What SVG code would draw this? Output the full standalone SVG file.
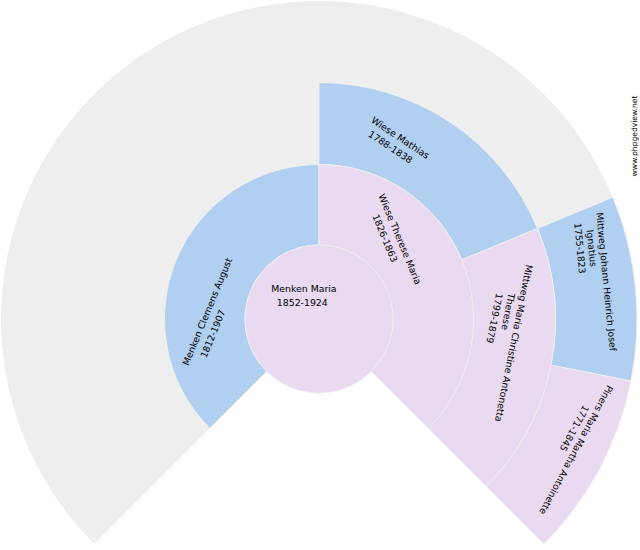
<svg xmlns="http://www.w3.org/2000/svg" width="640" height="550" viewBox="0 0 640 550">
<style>
.cell{stroke:#eeeeee;stroke-width:1}
.m{fill:#b1cff0}
.f{fill:#e9daf1}
.bg{fill:#eeeeee}
text{font-family:"DejaVu Sans","Liberation Sans",sans-serif;font-size:9.33px;fill:#000;text-anchor:middle}
.wm{font-size:7.6px}
</style>
<rect width="640" height="550" fill="#ffffff"/>
<g id="empty">
<path class="bg" d="M94.14,543.86 A318,318 0 1 1 612.79,197.31 L537.50,228.50 A236.5,236.5 0 0 0 319,82.5 L319,164.5 A154.5,154.5 0 0 0 209.75,428.25 Z"/>
</g>
<g id="p-mittweg-johann">
<path class="cell m" d="M612.79,197.31 A318,318 0 0 1 630.89,381.04 L550.96,365.14 A236.5,236.5 0 0 0 537.50,228.50 Z"/>
<text transform="translate(606.3,281.7) rotate(84.375)" y="3.3">Mittweg Johann Heinrich Josef</text>
<text transform="translate(591.7,248.3) rotate(84.375)" y="3.3">Ignatius</text>
<text transform="translate(580,248.3) rotate(84.375)" y="3.3">1755-1823</text>
</g>
<g id="p-piners">
<path class="cell f" d="M630.89,381.04 A318,318 0 0 1 543.86,543.86 L486.23,486.23 A236.5,236.5 0 0 0 550.96,365.14 Z"/>
<text transform="translate(576.2,449.9) rotate(118.125)" y="3.3">Piners Maria Martha Antoinette</text>
<text transform="translate(574.4,428.4) rotate(118.125)" y="3.3">1771-1845</text>
</g>
<g id="p-wiese-mathias">
<path class="cell m" d="M319,82.5 A236.5,236.5 0 0 1 537.50,228.50 L461.74,259.88 A154.5,154.5 0 0 0 319,164.5 Z"/>
<text transform="translate(400.3,137.8) rotate(33.75)" y="3.3">Wiese Mathias</text>
<text transform="translate(390.5,147) rotate(33.75)" y="3.3">1788-1838</text>
</g>
<g id="p-mittweg-maria">
<path class="cell f" d="M537.50,228.50 A236.5,236.5 0 0 1 486.23,486.23 L428.25,428.25 A154.5,154.5 0 0 0 461.74,259.88 Z"/>
<text transform="translate(513.8,343.3) rotate(101.25)" y="3.3">Mittweg Maria Christine Antonetta</text>
<text transform="translate(508.2,311.6) rotate(101.25)" y="3.3">Therese</text>
<text transform="translate(494.5,318.3) rotate(101.25)" y="3.3">1799-1879</text>
</g>
<g id="p-menken-clemens">
<path class="cell m" d="M209.75,428.25 A154.5,154.5 0 0 1 319,164.5 L319,245 A74,74 0 0 0 266.67,371.33 Z"/>
<text transform="translate(207.2,311.7) rotate(-67.5)" y="3.3">Menken Clemens August</text>
<text transform="translate(212.8,333.7) rotate(-67.5)" y="3.3">1812-1907</text>
</g>
<g id="p-wiese-therese">
<path class="cell f" d="M319,164.5 A154.5,154.5 0 0 1 428.25,428.25 L371.33,371.33 A74,74 0 0 0 319,245 Z"/>
<text transform="translate(400,239.2) rotate(67.5)" y="3.3">Wiese Therese Maria</text>
<text transform="translate(385,238.3) rotate(67.5)" y="3.3">1826-1863</text>
</g>
<g id="p-menken-maria">
<circle class="cell f" cx="319" cy="319" r="74"/>
<text x="303.9" y="291.9">Menken Maria</text>
<text x="302.3" y="305.5">1852-1924</text>
</g>
<text class="wm" transform="translate(636.5,136) rotate(-90)">www.phpgedview.net</text>
</svg>
